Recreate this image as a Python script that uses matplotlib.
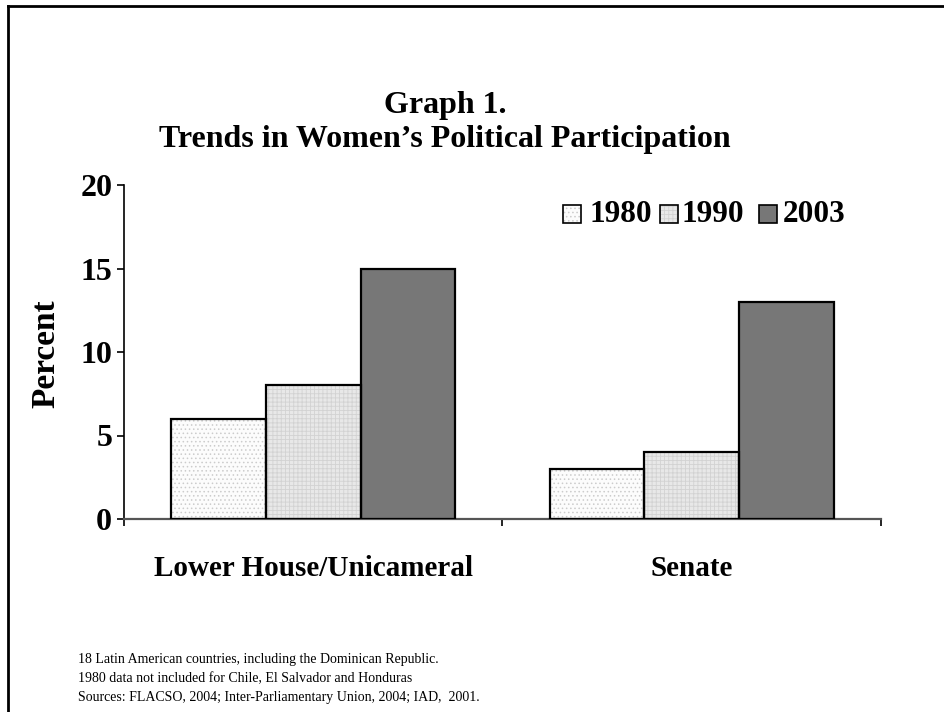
import matplotlib
matplotlib.use("Agg")
import matplotlib.pyplot as plt
from matplotlib.lines import Line2D
from matplotlib.patches import Rectangle
import numpy as np

categories = ["Lower House/Unicameral", "Senate"]
years = ["1980", "1990", "2003"]
values = {
    "1980": [6, 3],
    "1990": [8, 4],
    "2003": [15, 13],
}
yticks = [0, 5, 10, 15, 20]
notes = [
    "18 Latin American countries, including the Dominican Republic.",
    "1980 data not included for Chile, El Salvador and Honduras",
    "Sources: FLACSO, 2004; Inter-Parliamentary Union, 2004; IAD,  2001.",
]

serif = ["Liberation Serif", "DejaVu Serif"]
plt.rcParams["font.family"] = serif
plt.rcParams["hatch.linewidth"] = 0.6

# fill colour, hatch pattern, hatch colour for each year
styles = {
    "1980": ("#fcfcfc", "....", "#cccccc"),
    "1990": ("#e8e8e8", "++++", "#d2d2d2"),
    "2003": ("#777777", None, "#6e6e6e"),
}

W, H = 945, 712
fig = plt.figure(figsize=(W / 100, H / 100), dpi=100)
ax = fig.add_axes([124 / W, 1 - 519 / H, 757 / W, 334 / H])

x = np.arange(len(categories))
width = 0.25
for i, yr in enumerate(years):
    fc, hatch, hc = styles[yr]
    pos = x + (i - 1) * width
    ax.bar(pos, values[yr], width, color=fc, hatch=hatch, edgecolor=hc,
           linewidth=0, zorder=2)
    ax.bar(pos, values[yr], width, fill=False, edgecolor="black",
           linewidth=1.6, zorder=3)

ax.set_xlim(-0.5, 1.5)
ax.set_ylim(0, 20)
ax.set_yticks(yticks)
ax.set_yticklabels([str(t) for t in yticks], fontsize=23, fontweight="bold")
ax.set_xticks([-0.5, 0.5, 1.5])
ax.set_xticklabels([])
ax.tick_params(axis="y", direction="out", length=5, width=1.2, pad=3.5)
ax.tick_params(axis="x", direction="out", length=5, width=1.2, color="black")
for s in ("top", "right"):
    ax.spines[s].set_visible(False)
ax.spines["left"].set_linewidth(1.2)
ax.spines["bottom"].set_color("#555555")
ax.spines["bottom"].set_linewidth(1.6)

for xi, cat in zip(x, categories):
    ax.text(xi, -(568 - 519) / 334, cat, transform=ax.get_xaxis_transform(),
            ha="center", va="center", fontsize=21, fontweight="bold")

ax.set_ylabel("Percent", fontsize=24, fontweight="bold")
ax.yaxis.set_label_coords((61 - 124) / 757, (519 - 354) / 334)

# legend drawn as squares with labels in figure pixels
leg_y = 1 - 214 / H
leg_sq = [563, 660, 759]
leg_tx = [589, 682, 783]
for xs, xt, yr in zip(leg_sq, leg_tx, years):
    fc, hatch, hc = styles[yr]
    fig.patches.append(Rectangle((xs / W, leg_y - 9 / H), 18 / W, 18 / H,
                                 transform=fig.transFigure, facecolor=fc,
                                 hatch=hatch, edgecolor=hc, linewidth=0))
    fig.patches.append(Rectangle((xs / W, leg_y - 9 / H), 18 / W, 18 / H,
                                 transform=fig.transFigure, fill=False,
                                 edgecolor="black", linewidth=1.2))
    fig.text(xt / W, leg_y, yr, fontsize=22.5, fontweight="bold",
             ha="left", va="center")

fig.text(445 / W, 1 - 105 / H, "Graph 1.", fontsize=23, fontweight="bold",
         ha="center", va="center")
fig.text(445 / W, 1 - 140 / H, "Trends in Women\u2019s Political Participation",
         fontsize=23, fontweight="bold", ha="center", va="center")

for k, line in enumerate(notes):
    fig.text(78 / W, 1 - (660 + 19 * k) / H, line, fontsize=10,
             ha="left", va="center")

# outer frame
fig.add_artist(Line2D([8 / W, 8 / W], [0, 1 - 6 / H], color="black",
                      linewidth=2, transform=fig.transFigure))
fig.add_artist(Line2D([8 / W, 1], [1 - 6 / H, 1 - 6 / H], color="black",
                      linewidth=2, transform=fig.transFigure))

fig.savefig("out.png", dpi=100)
